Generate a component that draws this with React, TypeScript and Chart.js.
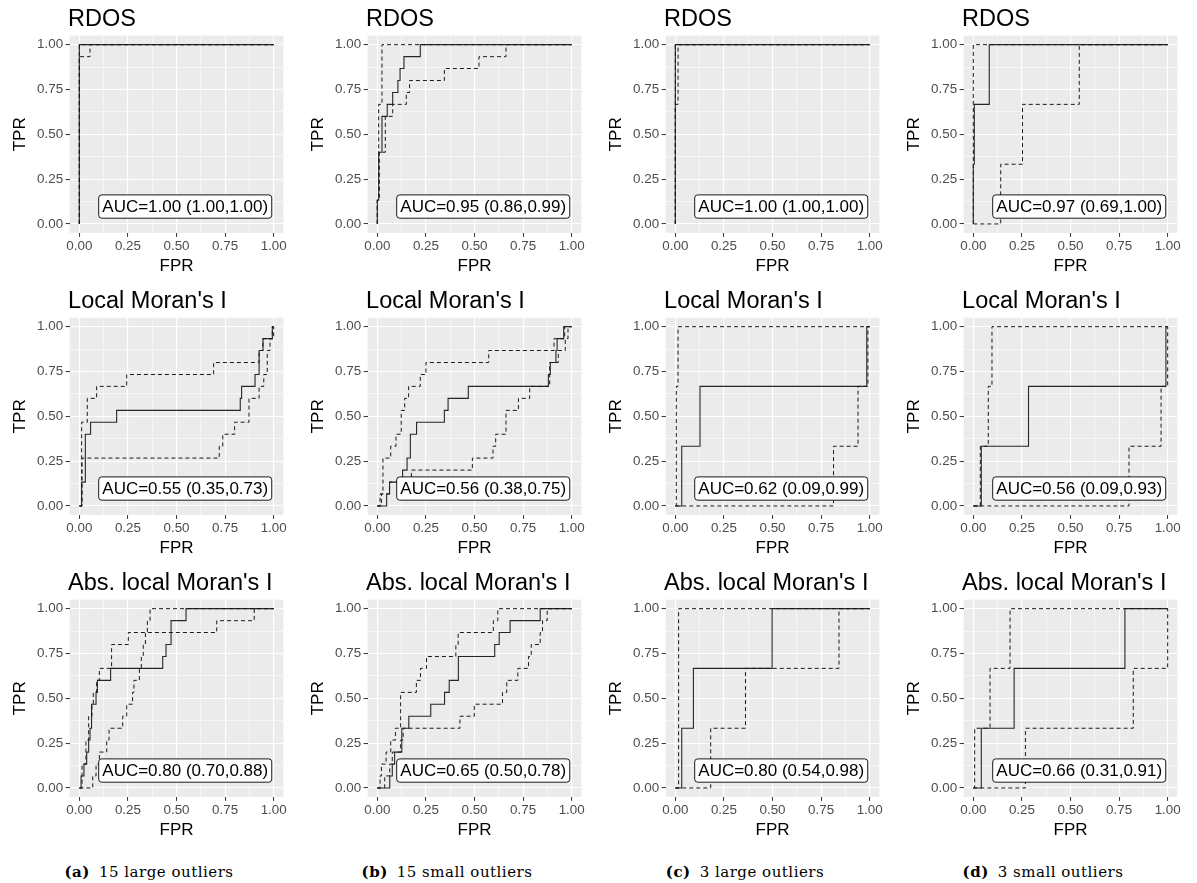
import React, { useEffect, useRef } from 'react';
import { Chart, registerables } from 'chart.js';

Chart.register(...registerables);

const SANS = '"Liberation Sans", Arial, sans-serif';

// Panel titles per row and captions per column
const rowTitles = ['RDOS', "Local Moran's I", "Abs. local Moran's I"];
const captionTags = ['(a)', '(b)', '(c)', '(d)'];
const captionTexts = ['15 large outliers', '15 small outliers', '3 large outliers', '3 small outliers'];

// AUC with confidence interval, rows = methods, columns = scenarios
const aucValues = [
  [1.0, 0.95, 1.0, 0.97],
  [0.55, 0.56, 0.62, 0.56],
  [0.8, 0.65, 0.8, 0.66],
];
const aucLower = [
  [1.0, 0.86, 1.0, 0.69],
  [0.35, 0.38, 0.09, 0.09],
  [0.7, 0.5, 0.54, 0.31],
];
const aucUpper = [
  [1.0, 0.99, 1.0, 1.0],
  [0.73, 0.75, 0.99, 0.93],
  [0.88, 0.78, 0.98, 0.91],
];

const majorTicks = [0, 0.25, 0.5, 0.75, 1];
const minorTicks = [0.125, 0.375, 0.625, 0.875];

// ROC curves as [FPR, TPR] vertices: Roc = estimate, Hi / Lo = dashed bounds
const rdos15LargeRoc = [[0, 0], [0, 1], [1, 1]];
const rdos15LargeHi = [[0, 0], [0, 1], [1, 1]];
const rdos15LargeLo = [[0, 0], [0, 0.933], [0.055, 0.933], [0.055, 1], [1, 1]];

const rdos15SmallRoc = [[0, 0], [0, 0.133], [0.007, 0.133], [0.007, 0.4], [0.024, 0.4], [0.024, 0.6], [0.051, 0.6], [0.051, 0.667], [0.079, 0.667], [0.079, 0.733], [0.106, 0.733], [0.106, 0.8], [0.117, 0.8], [0.117, 0.867], [0.137, 0.867], [0.137, 0.933], [0.221, 0.933], [0.221, 1], [1, 1]];
const rdos15SmallHi = [[0, 0], [0, 0.133], [0.007, 0.133], [0.007, 0.667], [0.024, 0.667], [0.024, 1], [1, 1]];
const rdos15SmallLo = [[0, 0], [0, 0.133], [0.01, 0.133], [0.01, 0.4], [0.041, 0.4], [0.041, 0.6], [0.079, 0.6], [0.079, 0.667], [0.149, 0.667], [0.149, 0.733], [0.166, 0.733], [0.166, 0.8], [0.345, 0.8], [0.345, 0.867], [0.523, 0.867], [0.523, 0.933], [0.662, 0.933], [0.662, 1], [1, 1]];

const rdos3LargeRoc = [[0, 0], [0, 1], [1, 1]];
const rdos3LargeHi = [[0, 0], [0, 1], [1, 1]];
const rdos3LargeLo = [[0, 0], [0, 0.667], [0.014, 0.667], [0.014, 1], [1, 1]];

const rdos3SmallRoc = [[0, 0], [0, 0.333], [0.005, 0.333], [0.005, 0.667], [0.082, 0.667], [0.082, 1], [1, 1]];
const rdos3SmallHi = [[0, 0], [0, 1], [1, 1]];
const rdos3SmallLo = [[0, 0], [0.141, 0], [0.141, 0.333], [0.253, 0.333], [0.253, 0.667], [0.545, 0.667], [0.545, 1], [1, 1]];

const moran15LargeRoc = [[0, 0], [0.012, 0], [0.012, 0.133], [0.031, 0.133], [0.031, 0.4], [0.058, 0.4], [0.058, 0.467], [0.192, 0.467], [0.192, 0.533], [0.828, 0.533], [0.828, 0.6], [0.835, 0.6], [0.835, 0.667], [0.904, 0.667], [0.904, 0.733], [0.925, 0.733], [0.925, 0.867], [0.945, 0.867], [0.945, 0.933], [0.993, 0.933], [0.993, 1], [1, 1]];
const moran15LargeHi = [[0, 0], [0.012, 0], [0.012, 0.467], [0.041, 0.467], [0.041, 0.6], [0.089, 0.6], [0.089, 0.667], [0.244, 0.667], [0.244, 0.733], [0.691, 0.733], [0.691, 0.8], [0.925, 0.8], [0.925, 0.867], [0.945, 0.867], [0.945, 0.933], [0.993, 0.933], [0.993, 1], [1, 1]];
const moran15LargeLo = [[0, 0], [0.014, 0], [0.014, 0.267], [0.72, 0.267], [0.72, 0.333], [0.738, 0.333], [0.738, 0.4], [0.799, 0.4], [0.799, 0.467], [0.873, 0.467], [0.873, 0.6], [0.925, 0.6], [0.925, 0.667], [0.949, 0.667], [0.949, 0.733], [0.967, 0.733], [0.967, 0.867], [0.981, 0.867], [0.981, 0.933], [1, 0.933], [1, 1]];

const moran15SmallRoc = [[0, 0], [0.048, 0], [0.048, 0.067], [0.063, 0.067], [0.063, 0.133], [0.13, 0.133], [0.13, 0.2], [0.153, 0.2], [0.153, 0.267], [0.17, 0.267], [0.17, 0.4], [0.202, 0.4], [0.202, 0.467], [0.345, 0.467], [0.345, 0.533], [0.364, 0.533], [0.364, 0.6], [0.468, 0.6], [0.468, 0.667], [0.88, 0.667], [0.88, 0.733], [0.89, 0.733], [0.89, 0.8], [0.919, 0.8], [0.919, 0.867], [0.925, 0.867], [0.925, 0.933], [0.959, 0.933], [0.959, 1], [1, 1]];
const moran15SmallHi = [[0, 0], [0.014, 0], [0.014, 0.067], [0.029, 0.067], [0.029, 0.267], [0.069, 0.267], [0.069, 0.333], [0.096, 0.333], [0.096, 0.4], [0.123, 0.4], [0.123, 0.533], [0.141, 0.533], [0.141, 0.6], [0.161, 0.6], [0.161, 0.667], [0.221, 0.667], [0.221, 0.733], [0.25, 0.733], [0.25, 0.8], [0.573, 0.8], [0.573, 0.867], [0.909, 0.867], [0.909, 0.933], [0.964, 0.933], [0.964, 1], [1, 1]];
const moran15SmallLo = [[0, 0], [0.021, 0], [0.021, 0.067], [0.063, 0.067], [0.063, 0.133], [0.175, 0.133], [0.175, 0.2], [0.489, 0.2], [0.489, 0.267], [0.595, 0.267], [0.595, 0.333], [0.609, 0.333], [0.609, 0.4], [0.662, 0.4], [0.662, 0.533], [0.726, 0.533], [0.726, 0.6], [0.784, 0.6], [0.784, 0.667], [0.887, 0.667], [0.887, 0.8], [0.931, 0.8], [0.931, 0.867], [0.967, 0.867], [0.967, 0.933], [0.981, 0.933], [0.981, 1], [1, 1]];

const moran3LargeRoc = [[0, 0], [0.033, 0], [0.033, 0.333], [0.127, 0.333], [0.127, 0.667], [0.985, 0.667], [0.985, 1], [1, 1]];
const moran3LargeHi = [[0, 0], [0.005, 0], [0.005, 0.667], [0.014, 0.667], [0.014, 1], [1, 1]];
const moran3LargeLo = [[0, 0], [0.814, 0], [0.814, 0.333], [0.94, 0.333], [0.94, 0.667], [0.991, 0.667], [0.991, 1], [1, 1]];

const moran3SmallRoc = [[0, 0], [0.041, 0], [0.041, 0.333], [0.284, 0.333], [0.284, 0.667], [0.991, 0.667], [0.991, 1], [1, 1]];
const moran3SmallHi = [[0, 0], [0.036, 0], [0.036, 0.333], [0.077, 0.333], [0.077, 0.667], [0.096, 0.667], [0.096, 1], [1, 1]];
const moran3SmallLo = [[0, 0], [0.801, 0], [0.801, 0.333], [0.966, 0.333], [0.966, 0.667], [1, 0.667], [1, 1]];

const absMoran15LargeRoc = [[0, 0], [0.009, 0], [0.009, 0.067], [0.024, 0.067], [0.024, 0.133], [0.038, 0.133], [0.038, 0.2], [0.048, 0.2], [0.048, 0.267], [0.055, 0.267], [0.055, 0.333], [0.063, 0.333], [0.063, 0.467], [0.086, 0.467], [0.086, 0.533], [0.093, 0.533], [0.093, 0.6], [0.161, 0.6], [0.161, 0.667], [0.429, 0.667], [0.429, 0.733], [0.446, 0.733], [0.446, 0.8], [0.472, 0.8], [0.472, 0.933], [0.549, 0.933], [0.549, 1], [1, 1]];
const absMoran15LargeHi = [[0, 0], [0.014, 0], [0.014, 0.133], [0.034, 0.133], [0.034, 0.267], [0.048, 0.267], [0.048, 0.4], [0.065, 0.4], [0.065, 0.467], [0.072, 0.467], [0.072, 0.533], [0.089, 0.533], [0.089, 0.6], [0.103, 0.6], [0.103, 0.667], [0.166, 0.667], [0.166, 0.8], [0.252, 0.8], [0.252, 0.867], [0.707, 0.867], [0.707, 0.933], [0.9, 0.933], [0.9, 1], [1, 1]];
const absMoran15LargeLo = [[0, 0], [0.069, 0], [0.069, 0.067], [0.086, 0.067], [0.086, 0.133], [0.103, 0.133], [0.103, 0.2], [0.141, 0.2], [0.141, 0.267], [0.153, 0.267], [0.153, 0.333], [0.223, 0.333], [0.223, 0.4], [0.244, 0.4], [0.244, 0.467], [0.274, 0.467], [0.274, 0.533], [0.281, 0.533], [0.281, 0.6], [0.309, 0.6], [0.309, 0.667], [0.319, 0.667], [0.319, 0.733], [0.329, 0.733], [0.329, 0.8], [0.34, 0.8], [0.34, 0.867], [0.35, 0.867], [0.35, 0.933], [0.364, 0.933], [0.364, 1], [1, 1]];

const absMoran15SmallRoc = [[0, 0], [0.064, 0], [0.064, 0.067], [0.077, 0.067], [0.077, 0.133], [0.089, 0.133], [0.089, 0.2], [0.126, 0.2], [0.126, 0.333], [0.162, 0.333], [0.162, 0.4], [0.275, 0.4], [0.275, 0.467], [0.346, 0.467], [0.346, 0.533], [0.37, 0.533], [0.37, 0.6], [0.417, 0.6], [0.417, 0.733], [0.604, 0.733], [0.604, 0.8], [0.627, 0.8], [0.627, 0.867], [0.683, 0.867], [0.683, 0.933], [0.838, 0.933], [0.838, 1], [1, 1]];
const absMoran15SmallHi = [[0, 0], [0.014, 0], [0.014, 0.067], [0.021, 0.067], [0.021, 0.133], [0.045, 0.133], [0.045, 0.2], [0.069, 0.2], [0.069, 0.267], [0.093, 0.267], [0.093, 0.333], [0.12, 0.333], [0.12, 0.533], [0.201, 0.533], [0.201, 0.6], [0.222, 0.6], [0.222, 0.667], [0.253, 0.667], [0.253, 0.733], [0.404, 0.733], [0.404, 0.8], [0.416, 0.8], [0.416, 0.867], [0.597, 0.867], [0.597, 0.933], [0.62, 0.933], [0.62, 1], [1, 1]];
const absMoran15SmallLo = [[0, 0], [0.038, 0], [0.038, 0.067], [0.064, 0.067], [0.064, 0.133], [0.077, 0.133], [0.077, 0.2], [0.12, 0.2], [0.12, 0.267], [0.133, 0.267], [0.133, 0.333], [0.425, 0.333], [0.425, 0.4], [0.499, 0.4], [0.499, 0.467], [0.644, 0.467], [0.644, 0.533], [0.666, 0.533], [0.666, 0.6], [0.723, 0.6], [0.723, 0.667], [0.778, 0.667], [0.778, 0.733], [0.792, 0.733], [0.792, 0.8], [0.838, 0.8], [0.838, 0.867], [0.85, 0.867], [0.85, 0.933], [0.874, 0.933], [0.874, 1], [1, 1]];

const absMoran3LargeRoc = [[0, 0], [0.033, 0], [0.033, 0.333], [0.093, 0.333], [0.093, 0.667], [0.498, 0.667], [0.498, 1], [1, 1]];
const absMoran3LargeHi = [[0, 0], [0.017, 0], [0.017, 1], [1, 1]];
const absMoran3LargeLo = [[0, 0], [0.182, 0], [0.182, 0.333], [0.361, 0.333], [0.361, 0.667], [0.842, 0.667], [0.842, 1], [1, 1]];

const absMoran3SmallRoc = [[0, 0], [0.041, 0], [0.041, 0.333], [0.21, 0.333], [0.21, 0.667], [0.78, 0.667], [0.78, 1], [1, 1]];
const absMoran3SmallHi = [[0, 0], [0.007, 0], [0.007, 0.333], [0.086, 0.333], [0.086, 0.667], [0.189, 0.667], [0.189, 1], [1, 1]];
const absMoran3SmallLo = [[0, 0], [0.268, 0], [0.268, 0.333], [0.823, 0.333], [0.823, 0.667], [1, 0.667], [1, 1]];

const curveGrid = [
  [
    [rdos15LargeRoc, rdos15LargeHi, rdos15LargeLo],
    [rdos15SmallRoc, rdos15SmallHi, rdos15SmallLo],
    [rdos3LargeRoc, rdos3LargeHi, rdos3LargeLo],
    [rdos3SmallRoc, rdos3SmallHi, rdos3SmallLo],
  ],
  [
    [moran15LargeRoc, moran15LargeHi, moran15LargeLo],
    [moran15SmallRoc, moran15SmallHi, moran15SmallLo],
    [moran3LargeRoc, moran3LargeHi, moran3LargeLo],
    [moran3SmallRoc, moran3SmallHi, moran3SmallLo],
  ],
  [
    [absMoran15LargeRoc, absMoran15LargeHi, absMoran15LargeLo],
    [absMoran15SmallRoc, absMoran15SmallHi, absMoran15SmallLo],
    [absMoran3LargeRoc, absMoran3LargeHi, absMoran3LargeLo],
    [absMoran3SmallRoc, absMoran3SmallHi, absMoran3SmallLo],
  ],
];

const PANEL_W = 298;
const PANEL_H = 282;

const toPoints = (pairs: number[][]) => pairs.map(([x, y]) => ({ x, y }));
const isMajor = (v: number | undefined) => v !== undefined && majorTicks.some((t) => Math.abs(t - v) < 1e-9);

// Grey panel background, title above the panel and the AUC label box
const panelDecor = {
  id: 'panelDecor',
  beforeDraw(chart: any, _args: any, opts: any) {
    const { ctx, chartArea: a } = chart;
    ctx.save();
    ctx.fillStyle = '#EBEBEB';
    ctx.fillRect(a.left, a.top, a.right - a.left, a.bottom - a.top);
    ctx.fillStyle = '#000000';
    ctx.font = `23.5px ${SANS}`;
    ctx.textAlign = 'left';
    ctx.textBaseline = 'alphabetic';
    ctx.fillText(opts.title, a.left - 1.5, a.top - 9.5);
    ctx.restore();
  },
  afterDatasetsDraw(chart: any, _args: any, opts: any) {
    const { ctx } = chart;
    const xs = chart.scales.x;
    const ys = chart.scales.y;
    ctx.save();
    ctx.font = `17px ${SANS}`;
    const w = ctx.measureText(opts.label).width;
    const padX = 3.6;
    const h = 23.3;
    const right = xs.getPixelForValue(0.99);
    const cy = ys.getPixelForValue(0.097);
    const left = right - w - 2 * padX;
    const top = cy - h / 2;
    const r = 3;
    ctx.beginPath();
    ctx.moveTo(left + r, top);
    ctx.lineTo(right - r, top);
    ctx.arcTo(right, top, right, top + r, r);
    ctx.lineTo(right, top + h - r);
    ctx.arcTo(right, top + h, right - r, top + h, r);
    ctx.lineTo(left + r, top + h);
    ctx.arcTo(left, top + h, left, top + h - r, r);
    ctx.lineTo(left, top + r);
    ctx.arcTo(left, top, left + r, top, r);
    ctx.closePath();
    ctx.fillStyle = '#FFFFFF';
    ctx.fill();
    ctx.lineWidth = 0.9;
    ctx.strokeStyle = '#000000';
    ctx.stroke();
    ctx.fillStyle = '#000000';
    ctx.textAlign = 'left';
    ctx.textBaseline = 'middle';
    ctx.fillText(opts.label, left + padX, cy + 0.5);
    ctx.restore();
  },
};

function axisOptions(title: string, isY: boolean) {
  return {
    type: 'linear',
    min: -0.05,
    max: 1.05,
    afterBuildTicks: (scale: any) => {
      scale.ticks = [...majorTicks, ...minorTicks].sort((p, q) => p - q).map((v) => ({ value: v }));
    },
    afterFit: (scale: any) => {
      if (isY) scale.width = 69.6;
      else scale.height = 49.1;
    },
    ticks: {
      autoSkip: false,
      maxRotation: 0,
      padding: isY ? 2.5 : 1,
      color: '#4D4D4D',
      font: { family: SANS, size: 13.4 },
      callback: (v: number) => (isMajor(v) ? v.toFixed(2) : ''),
    },
    grid: {
      color: '#FFFFFF',
      lineWidth: (c: any) => (isMajor(c.tick?.value) ? 1.1 : 0.55),
      drawTicks: true,
      tickLength: 4,
      tickWidth: 1,
      tickColor: (c: any) => (isMajor(c.tick?.value) ? '#333333' : 'rgba(0,0,0,0)'),
    },
    border: { display: false },
    title: {
      display: true,
      text: title,
      color: '#000000',
      font: { family: SANS, size: 17 },
      padding: isY ? { top: 10, bottom: 0 } : { top: 0, bottom: 5 },
    },
  };
}

function RocPanel({ row, col }: { row: number; col: number }) {
  const ref = useRef<HTMLCanvasElement>(null);
  useEffect(() => {
    const [roc, hi, lo] = curveGrid[row][col];
    const label = `AUC=${aucValues[row][col].toFixed(2)} (${aucLower[row][col].toFixed(2)},${aucUpper[row][col].toFixed(2)})`;
    const dashed = { borderColor: '#1A1A1A', borderWidth: 1, borderDash: [4, 3], showLine: true, pointRadius: 0, fill: false };
    const chart = new Chart(ref.current as HTMLCanvasElement, {
      type: 'scatter',
      data: {
        datasets: [
          { ...dashed, data: toPoints(lo) },
          { ...dashed, data: toPoints(hi) },
          { data: toPoints(roc), borderColor: '#262626', borderWidth: 1.1, showLine: true, pointRadius: 0, fill: false },
        ],
      },
      options: {
        responsive: false,
        animation: false,
        events: [],
        layout: { padding: { top: 35.7, right: 14.6, left: 0, bottom: 0 } },
        scales: {
          x: axisOptions('FPR', false),
          y: axisOptions('TPR', true),
        },
        plugins: {
          legend: { display: false },
          tooltip: { enabled: false },
          panelDecor: { title: rowTitles[row], label },
        },
      } as any,
      plugins: [panelDecor as any],
    });
    return () => chart.destroy();
  }, [row, col]);
  return (
    <canvas
      ref={ref}
      width={PANEL_W}
      height={PANEL_H}
      style={{ position: 'absolute', left: col * PANEL_W, top: row * PANEL_H, width: PANEL_W, height: PANEL_H, display: 'block' }}
    />
  );
}

export default function App() {
  return (
    <div style={{ position: 'absolute', left: 0, top: 0, width: 1197, height: 883, background: '#FFFFFF', overflow: 'hidden' }}>
      {rowTitles.map((_, r) => captionTags.map((__, c) => <RocPanel key={`${r}-${c}`} row={r} col={c} />))}
      {captionTags.map((tag, c) => (
        <div
          key={tag}
          style={{
            position: 'absolute',
            left: c * PANEL_W,
            top: 862,
            width: PANEL_W,
            textAlign: 'center',
            fontFamily: '"DejaVu Serif", "Liberation Serif", serif',
            fontSize: 15,
            letterSpacing: 0.5,
            lineHeight: '20px',
            color: '#000000',
          }}
        >
          <span style={{ fontWeight: 'bold', marginRight: 9 }}>{tag}</span>
          <span>{captionTexts[c]}</span>
        </div>
      ))}
    </div>
  );
}
